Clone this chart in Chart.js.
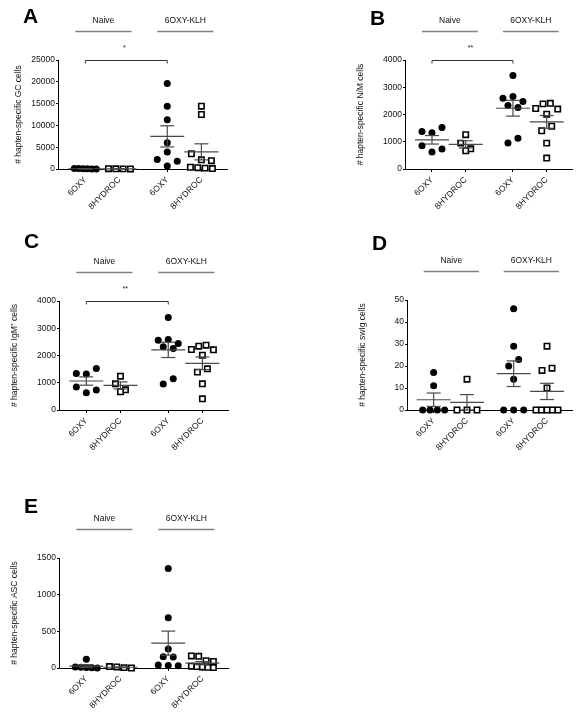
<!DOCTYPE html>
<html><head><meta charset="utf-8">
<script src="https://cdn.jsdelivr.net/npm/chart.js"></script>
<style>
html,body{margin:0;padding:0;background:#fff;width:579px;height:715px;overflow:hidden;position:relative}
canvas{position:absolute}
</style></head><body>
<script>
// ---------- data (listed in worksheet order) ----------
const categories = ['6OXY', '8HYDROC', '6OXY', '8HYDROC'];
const groupLabels = ['Naive', '6OXY-KLH'];
const panelLetters = ['A', 'B', 'C', 'D', 'E'];
const axisTitles = [
  '# hapten-specific GC cells',
  '# hapten-specific N/M cells',
  '# hapten-specific IgM\u207A cells',
  '# hapten-specific swIg cells',
  '# hapten-specific ASC cells'
];
const significance = ['*', '**', '**', '', ''];

// Panel A: GC cells
const gcTicks = [0, 5000, 10000, 15000, 20000, 25000];
const gcNaive6OXY = [120, 90, 60, 40, 20, 10];
const gcNaive8HYDROC = [80, 50, 30, 10];
const gcKlh6OXY = [19600, 14400, 11300, 6000, 3900, 2200, 700, 1800];
const gcKlh8HYDROC = [14400, 12500, 3500, 2100, 1900, 400, 300, 200, 100];

// Panel B: N/M cells
const nmTicks = [0, 1000, 2000, 3000, 4000];
const nmNaive6OXY = [1378, 1330, 1520, 850, 620, 730];
const nmNaive8HYDROC = [1260, 950, 740, 670];
const nmKlh6OXY = [3430, 2600, 2660, 2480, 2330, 2260, 950, 1130];
const nmKlh8HYDROC = [2220, 2390, 2410, 2200, 2010, 1400, 1570, 950, 400];

// Panel C: IgM+ cells
const igmTicks = [0, 1000, 2000, 3000, 4000];
const igmNaive6OXY = [1340, 1320, 1520, 840, 630, 730];
const igmNaive8HYDROC = [960, 740, 1240, 670];
const igmKlh6OXY = [3390, 2560, 2590, 2440, 2320, 2260, 950, 1150];
const igmKlh8HYDROC = [2220, 2340, 2380, 2210, 2010, 1390, 1510, 960, 410];

// Panel D: swIg cells
const swTicks = [0, 10, 20, 30, 40, 50];
const swNaive6OXY = [17, 11, 0, 0, 0, 0];
const swNaive8HYDROC = [14, 0, 0, 0];
const swKlh6OXY = [46, 29, 20, 23, 14, 0, 0, 0];
const swKlh8HYDROC = [29, 18, 19, 10, 0, 0, 0, 0, 0];

// Panel E: ASC cells
const ascTicks = [0, 500, 1000, 1500];
const ascNaive6OXY = [120, 15, 10, 8, 5, 0];
const ascNaive8HYDROC = [20, 15, 5, 0];
const ascKlh6OXY = [1357, 685, 260, 155, 150, 40, 35, 30];
const ascKlh8HYDROC = [165, 160, 100, 90, 25, 20, 15, 10, 5];

// ---------- layout ----------
const FONT = "'Liberation Sans', Arial, Helvetica, sans-serif";
Chart.defaults.font.family = FONT;
Chart.defaults.font.size = 8.5;
Chart.defaults.color = '#111';
const LINE = '#4a4a4a';
const columnPos = [1, 2, 3.4, 4.4];   // column centres along the x scale (gap between groups)

const panels = [
  {series:[gcNaive6OXY, gcNaive8HYDROC, gcKlh6OXY, gcKlh8HYDROC], ticks:gcTicks,
   axisX:58, plotTop:60, plotBottom:169, plotRight:227, letterDy:-37, titlePad:14},
  {series:[nmNaive6OXY, nmNaive8HYDROC, nmKlh6OXY, nmKlh8HYDROC], ticks:nmTicks,
   axisX:405, plotTop:60, plotBottom:169, plotRight:572, letterDy:-35, titlePad:9},
  {series:[igmNaive6OXY, igmNaive8HYDROC, igmKlh6OXY, igmKlh8HYDROC], ticks:igmTicks,
   axisX:59, plotTop:301, plotBottom:410, plotRight:228, letterDy:-53, titlePad:9},
  {series:[swNaive6OXY, swNaive8HYDROC, swKlh6OXY, swKlh8HYDROC], ticks:swTicks,
   axisX:407, plotTop:300, plotBottom:410, plotRight:572, letterDy:-50, titlePad:9},
  {series:[ascNaive6OXY, ascNaive8HYDROC, ascKlh6OXY, ascKlh8HYDROC], ticks:ascTicks,
   axisX:59, plotTop:558, plotBottom:668, plotRight:228, letterDy:-45, titlePad:9}
];

const mean = a => a.reduce((s, v) => s + v, 0) / a.length;
const sem = a => { const m = mean(a); return Math.sqrt(a.reduce((s, v) => s + (v - m) ** 2, 0) / (a.length - 1)) / Math.sqrt(a.length); };

// rows of points with similar pixel height are spread side by side (worksheet order, left to right)
function spreadColumn(pts) {
  const sorted = pts.slice().sort((a, b) => a.py - b.py);
  const out = [];
  let i = 0;
  while (i < sorted.length) {
    let j = i + 1;
    while (j < sorted.length && sorted[j].py - sorted[i].py < 7) j++;
    const row = sorted.slice(i, j).sort((a, b) => a.idx - b.idx);
    const n = row.length, s = n <= 3 ? 10 : 22 / (n - 1);
    row.forEach((pt, k) => out.push({v: pt.v, dx: (k - (n - 1) / 2) * s}));
    i = j;
  }
  return out;
}

function makePanel(p, pi) {
  const W = 290, AX = 58, TOP = 75, XH = 52;
  const plotH = p.plotBottom - p.plotTop, plotW = p.plotRight - p.axisX;
  const cv = document.createElement('canvas');
  cv.width = W; cv.height = TOP + plotH + XH;
  cv.style.left = (p.axisX - AX) + 'px';
  cv.style.top = (p.plotTop - TOP) + 'px';
  document.body.appendChild(cv);

  const datasets = [], swarmInfo = [];
  p.series.forEach((vals, i) => {
    const sq = i % 2 === 1;
    const m = mean(vals), s = sem(vals);
    swarmInfo.push({ds: datasets.length, vals, pos: columnPos[i]});
    datasets.push({
      data: vals.map(v => ({x: columnPos[i], y: v})),
      pointStyle: sq ? 'rect' : 'circle',
      pointRadius: sq ? 3.8 : 3.5,
      pointBackgroundColor: sq ? '#fff' : '#000',
      pointBorderColor: '#000',
      pointBorderWidth: sq ? 1.6 : 0,
      clip: false, order: 2
    });
    datasets.push({
      data: [{x: columnPos[i], y: m - s}, {x: columnPos[i], y: m + s}],
      showLine: true, borderColor: LINE, borderWidth: 1.2,
      pointStyle: 'line', pointRadius: 7, pointBorderColor: LINE, pointBorderWidth: 1.2,
      clip: false, order: 1
    });
    datasets.push({
      data: [{x: columnPos[i], y: m}],
      pointStyle: 'line', pointRadius: 17, pointBorderColor: LINE, pointBorderWidth: 1.2,
      clip: false, order: 0
    });
  });

  const annot = {
    id: 'annot',
    afterDraw(chart) {
      const ctx = chart.ctx, xs = chart.scales.x;
      const top = chart.chartArea.top, left = chart.chartArea.left;
      ctx.save();
      ctx.fillStyle = '#000';
      ctx.font = 'bold 21px ' + FONT;
      ctx.textAlign = 'left'; ctx.textBaseline = 'alphabetic';
      ctx.fillText(panelLetters[pi], left - 35, top + p.letterDy);
      groupLabels.forEach((g, gi) => {
        const x1 = xs.getPixelForValue(columnPos[gi * 2]) - 10;
        const x2 = xs.getPixelForValue(columnPos[gi * 2 + 1]) + 12;
        const ly = top - 28.5;
        ctx.strokeStyle = '#808080'; ctx.lineWidth = 1.4;
        ctx.beginPath(); ctx.moveTo(x1, ly); ctx.lineTo(x2, ly); ctx.stroke();
        ctx.fillStyle = '#111';
        ctx.font = '8.5px ' + FONT; ctx.textAlign = 'center'; ctx.textBaseline = 'middle';
        ctx.fillText(g, (x1 + x2) / 2, ly - 10.5);
      });
      if (significance[pi]) {
        const b1 = xs.getPixelForValue(columnPos[0]), b2 = xs.getPixelForValue(columnPos[2]);
        ctx.strokeStyle = '#333'; ctx.lineWidth = 1;
        ctx.beginPath();
        ctx.moveTo(b1, top + 3.5); ctx.lineTo(b1, top + 0.5); ctx.lineTo(b2, top + 0.5); ctx.lineTo(b2, top + 3.5);
        ctx.stroke();
        ctx.fillStyle = '#111';
        ctx.font = '7px ' + FONT; ctx.textAlign = 'center'; ctx.textBaseline = 'alphabetic';
        ctx.fillText(significance[pi], (b1 + b2) / 2 - 2, top - 10);
      }
      ctx.restore();
    }
  };

  const chart = new Chart(cv, {
    type: 'scatter',
    data: {datasets},
    options: {
      responsive: false, animation: false, devicePixelRatio: 1,
      layout: {padding: {left: 0, top: TOP, right: W - AX - plotW, bottom: 0}},
      plugins: {legend: {display: false}, tooltip: {enabled: false}},
      scales: {
        x: {
          type: 'linear', min: 0.2, max: 5.15,
          afterBuildTicks: sc => { sc.ticks = columnPos.map(v => ({value: v})); },
          afterFit: sc => { sc.height = XH; },
          ticks: {autoSkip: false, minRotation: 45, maxRotation: 45, padding: 3,
                  callback: (v, i) => categories[i], color: '#111', font: {size: 8.5}},
          grid: {drawOnChartArea: false, drawTicks: true, tickLength: 3, color: '#000'},
          border: {display: true, color: '#000', width: 1}
        },
        y: {
          type: 'linear', min: p.ticks[0], max: p.ticks[p.ticks.length - 1],
          afterBuildTicks: sc => { sc.ticks = p.ticks.map(v => ({value: v})); },
          afterFit: sc => { sc.width = AX; },
          ticks: {padding: 1, callback: v => String(v), color: '#111', font: {size: 8.5}},
          grid: {drawOnChartArea: false, drawTicks: true, tickLength: 2, color: '#000'},
          border: {display: true, color: '#000', width: 1},
          title: {display: true, text: axisTitles[pi], color: '#111',
                  padding: {top: p.titlePad, bottom: 0}, font: {size: 8.5}}
        }
      }
    },
    plugins: [annot]
  });

  // spread overlapping points horizontally, using the chart's own scales
  const xs = chart.scales.x, ys = chart.scales.y;
  const unit = (xs.max - xs.min) / (xs.right - xs.left);
  swarmInfo.forEach(info => {
    const pts = info.vals.map((v, idx) => ({v, idx, py: ys.getPixelForValue(v)}));
    chart.data.datasets[info.ds].data = spreadColumn(pts).map(q => ({x: info.pos + q.dx * unit, y: q.v}));
  });
  chart.update('none');
}

panels.forEach(makePanel);
</script>
</body></html>
